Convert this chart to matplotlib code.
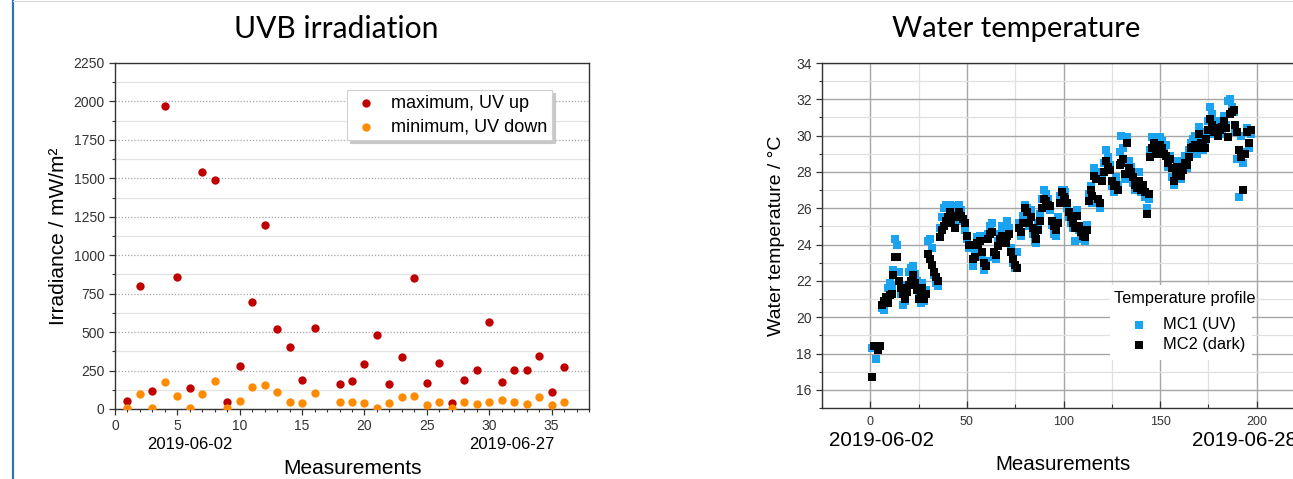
import matplotlib
matplotlib.use('Agg')
import matplotlib.pyplot as plt
from matplotlib.lines import Line2D
from matplotlib.patches import Rectangle
from matplotlib.ticker import MultipleLocator
import matplotlib.transforms as mtransforms

plt.rcParams['font.family'] = ['Liberation Sans', 'DejaVu Sans']

# UVB irradiation (left panel)
uv_measure = [1, 2, 3, 4, 5, 6, 7, 8, 9, 10, 11, 12, 13, 14, 15, 16,
              18, 19, 20, 21, 22, 23, 24, 25, 26, 27, 28, 29, 30, 31, 32, 33, 34, 35, 36]
uv_max = [50, 803, 115, 1970, 859, 134, 1539, 1489, 43, 279, 697, 1199, 517, 403, 188, 528,
          162, 182, 290, 481, 160, 340, 851, 167, 297, 37, 188, 253, 567, 177, 253, 253, 344, 113, 275]
uv_min = [5, 97, 4, 177, 87, 9, 97, 180, 4, 52, 141, 156, 108, 48, 37, 104,
          48, 48, 41, 4, 37, 78, 87, 26, 48, 4, 48, 32, 48, 56, 48, 32, 76, 26, 48]
uv_dates = ['2019-06-02', '2019-06-27']
uv_date_pos = [6, 31.8]

# Water temperature (right panel)
temp_measure = list(range(1, 198))
mc1 = [
    18.3, 18.4, 17.7, 18.3, 18.4, 20.5, 20.4, 20.9, 21.6, 21.9,
    21.7, 22.6, 24.3, 24.0, 22.5, 21.3, 20.7, 20.9, 21.8, 22.5,
    22.7, 22.8, 22.4, 22.0, 21.3, 20.8, 21.9, 20.9, 21.5, 24.2,
    24.3, 23.8, 22.3, 21.9, 21.7, 24.9, 25.5, 26.0, 26.2, 26.1,
    26.2, 25.8, 26.0, 25.3, 26.1, 26.2, 25.9, 25.3, 24.8, 24.3,
    23.8, 23.9, 22.8, 23.5, 24.4, 23.9, 24.5, 23.3, 22.6, 23.1,
    24.6, 25.0, 25.2, 23.3, 23.2, 24.2, 24.6, 25.0, 24.8, 24.2,
    25.3, 24.9, 23.8, 23.0, 22.7, 23.6, 25.2, 24.5, 25.6, 26.2,
    26.0, 25.0, 25.9, 24.6, 24.2, 24.1, 25.2, 25.7, 26.5, 27.0,
    26.8, 26.5, 25.9, 25.1, 24.6, 24.5, 25.5, 26.7, 27.0, 27.0,
    26.9, 26.0, 25.5, 25.2, 24.9, 24.2, 25.9, 24.8, 24.3, 24.6,
    24.2, 25.1, 26.8, 27.2, 26.3, 28.2, 28.0, 26.3, 26.0, 27.9,
    28.5, 29.2, 28.8, 28.4, 27.2, 26.9, 27.7, 27.3, 29.1, 30.0,
    29.3, 27.6, 29.9, 28.6, 28.3, 27.4, 27.0, 27.5, 28.0, 26.9,
    27.1, 26.6, 26.0, 26.5, 29.2, 29.9, 29.8, 29.4, 29.1, 29.9,
    29.7, 29.2, 29.5, 28.3, 28.9, 27.7, 27.3, 27.9, 28.6, 28.3,
    27.6, 28.4, 28.9, 28.2, 29.2, 29.6, 29.8, 30.0, 29.0, 30.5,
    29.9, 29.2, 29.6, 30.2, 30.8, 31.6, 31.2, 30.1, 30.8, 30.3,
    30.7, 30.1, 31.1, 30.6, 31.9, 32.0, 31.6, 31.3, 30.2, 28.7,
    26.6, 30.0, 28.5, 29.1, 30.4, 29.3, 30.1]
mc2 = [
    16.7, 18.4, 18.4, 18.2, 18.4, 20.7, 20.9, 21.1, 20.8, 21.2,
    21.3, 22.3, 23.3, 23.3, 22.0, 21.6, 21.3, 21.0, 21.4, 21.8,
    22.0, 22.3, 21.9, 21.5, 21.0, 21.2, 21.6, 21.0, 21.3, 23.5,
    23.2, 22.9, 22.5, 22.2, 22.0, 24.4, 24.8, 25.0, 25.3, 25.5,
    25.8, 25.2, 25.6, 24.9, 25.5, 25.8, 25.6, 25.4, 25.2, 24.5,
    24.0, 24.0, 23.2, 23.3, 24.1, 24.0, 24.2, 23.6, 23.0, 22.8,
    24.3, 24.6, 24.7, 23.6, 23.4, 23.9, 24.3, 24.5, 24.4, 24.1,
    24.5, 24.6, 23.6, 23.2, 22.9, 22.7, 24.9, 24.7, 25.2, 26.0,
    25.8, 25.2, 25.5, 24.9, 24.6, 24.3, 24.8, 25.3, 26.0, 26.5,
    26.4, 26.2, 26.1, 25.3, 25.0, 24.8, 25.2, 26.3, 26.9, 26.6,
    26.5, 26.3, 25.8, 25.5, 25.2, 24.9, 25.6, 25.0, 24.7, 24.5,
    24.4, 24.8, 26.4, 27.0, 26.7, 27.8, 27.6, 26.5, 26.3, 27.5,
    28.0, 28.6, 28.3, 28.1, 27.5, 27.2, 27.3, 27.0, 28.4, 28.5,
    28.7, 27.9, 29.6, 28.2, 28.0, 27.7, 27.3, 27.1, 27.5, 27.0,
    27.3, 26.9, 25.7, 26.8, 28.8, 29.3, 29.6, 29.2, 29.0, 29.5,
    29.3, 29.0, 28.9, 28.5, 28.7, 28.2, 27.5, 27.8, 28.3, 28.0,
    27.8, 28.1, 28.5, 28.4, 28.8, 29.3, 29.4, 29.5, 29.3, 30.1,
    29.6, 29.4, 29.3, 29.8, 30.3, 30.9, 30.6, 30.2, 30.4, 30.0,
    30.3, 30.5, 30.8, 30.4, 29.9, 31.2, 31.3, 31.4, 30.6, 30.2,
    29.2, 28.8, 27.0, 29.0, 30.2, 29.6, 30.3]
temp_dates = ['2019-06-02', '2019-06-28']
temp_date_pos = [5.7, 193.8]

W, H = 1293, 479
fig = plt.figure(figsize=(W / 100, H / 100), dpi=100)

# slide decoration
fig.add_artist(Line2D([12.5 / W, 12.5 / W], [0, 1], color='#2e75b6', lw=1.6))
fig.add_artist(Line2D([12.5 / W, 1], [1 - 1 / H, 1 - 1 / H], color='#d9d9d9', lw=0.8))

title_font = ['Lato', 'DejaVu Sans']

# ---- left: UVB irradiation ----
ax1 = fig.add_axes([115 / W, (H - 409) / H, 474 / W, 346 / H])
ax1.scatter(uv_measure, uv_max, s=36, color='#c00000', label='maximum, UV up', zorder=3, linewidths=0)
ax1.scatter(uv_measure, uv_min, s=36, color='#ff8c00', label='minimum, UV down', zorder=3, linewidths=0)
ax1.set_xlim(0, 38)
ax1.set_ylim(0, 2250)
ax1.xaxis.set_major_locator(MultipleLocator(5))
ax1.xaxis.set_minor_locator(MultipleLocator(1))
ax1.yaxis.set_major_locator(MultipleLocator(250))
ax1.yaxis.set_minor_locator(MultipleLocator(125))
ax1.grid(axis='y', which='major', color='#a6a6a6', linestyle=(0, (1, 1.5)), lw=0.9)
ax1.grid(axis='y', which='minor', color='#e3e3e3', linestyle='-', lw=0.9)
ax1.set_axisbelow(True)
ax1.tick_params(which='major', direction='out', length=4, width=0.9, labelsize=10, colors='#333333')
ax1.tick_params(which='minor', direction='out', length=2.5, width=0.8, colors='#333333')
for sp in ax1.spines.values():
    sp.set_color('#333333')
    sp.set_linewidth(1.0)
ax1.set_ylabel('Irradiance / mW/m²', fontsize=15, labelpad=4)
fig.text(352.5 / W, 1 - 468 / H, 'Measurements', ha='center', va='center', fontsize=15)
tr1 = mtransforms.blended_transform_factory(ax1.transData, ax1.transAxes)
for pos, lab in zip(uv_date_pos, uv_dates):
    ax1.text(pos, -0.104, lab, transform=tr1, ha='center', va='center', fontsize=12)
leg1 = ax1.legend(loc='upper left', bbox_to_anchor=(347 / W, 1 - 90 / H), bbox_transform=fig.transFigure,
                  fontsize=13, frameon=True, fancybox=False, handletextpad=0.6, borderpad=0.25,
                  borderaxespad=0, labelspacing=0.4, handlelength=1.6, markerscale=1.0,
                  shadow={'color': '#c8c8c8', 'alpha': 1})
leg1.get_frame().set_edgecolor('#d0d0d0')
leg1.get_frame().set_linewidth(0.8)
fig.text(336.5 / W, 1 - 29 / H, 'UVB irradiation', ha='center', va='center', fontsize=21.6, family=title_font)

# ---- right: Water temperature ----
ax2 = fig.add_axes([822 / W, (H - 408) / H, 483 / W, 345 / H])
ax2.scatter(temp_measure, mc1, s=26, marker='s', color='#1aa3f0', label='MC1 (UV)', zorder=3, linewidths=0)
ax2.scatter(temp_measure, mc2, s=26, marker='s', color='black', label='MC2 (dark)', zorder=4, linewidths=0)
ax2.set_xlim(-25, 225)
ax2.set_ylim(15, 34)
ax2.xaxis.set_major_locator(MultipleLocator(50))
ax2.xaxis.set_minor_locator(MultipleLocator(25))
ax2.yaxis.set_major_locator(MultipleLocator(2))
ax2.yaxis.set_minor_locator(MultipleLocator(1))
ax2.grid(which='major', color='#a6a6a6', linestyle='-', lw=1.0)
ax2.grid(which='minor', color='#e0e0e0', linestyle='-', lw=0.9)
ax2.set_axisbelow(True)
ax2.tick_params(axis='x', which='major', direction='in', length=5, width=0.9, labelsize=9, colors='#333333', pad=6)
ax2.tick_params(axis='x', which='minor', direction='in', length=3, width=0.8, colors='#333333')
ax2.tick_params(axis='y', which='major', direction='out', length=4, width=0.9, labelsize=10, colors='#333333')
ax2.tick_params(axis='y', which='minor', direction='out', length=2.5, width=0.8, colors='#333333')
for sp in ax2.spines.values():
    sp.set_color('#333333')
    sp.set_linewidth(1.0)
ax2.set_ylabel('Water temperature / °C', fontsize=14, labelpad=8)
fig.text(1063 / W, 1 - 465 / H, 'Measurements', ha='center', va='center', fontsize=14.8)
tr2 = mtransforms.blended_transform_factory(ax2.transData, ax2.transAxes)
for pos, lab in zip(temp_date_pos, temp_dates):
    ax2.text(pos, -0.093, lab, transform=tr2, ha='center', va='center', fontsize=14.8)

# legend: white box behind title and entries
ax2.add_patch(Rectangle((1110 / W, 1 - 360 / H), 142 / W, 75 / H, transform=fig.transFigure,
                        facecolor='white', edgecolor='none', zorder=5, clip_on=False))
ax2.text(1185 / W, 1 - 298 / H, 'Temperature profile', transform=fig.transFigure,
         ha='center', va='center', fontsize=11.8, zorder=6)
leg2 = ax2.legend(loc='upper left', bbox_to_anchor=(1124 / W, 1 - 314 / H), bbox_transform=fig.transFigure,
                  fontsize=11.8, frameon=False, handletextpad=0.8, borderpad=0.2, borderaxespad=0,
                  labelspacing=0.3, handlelength=1.4, markerscale=1.0)
leg2.set_zorder(7)
fig.text(1016 / W, 1 - 29 / H, 'Water temperature', ha='center', va='center', fontsize=21, family=title_font)

fig.savefig('out.png', dpi=100)
